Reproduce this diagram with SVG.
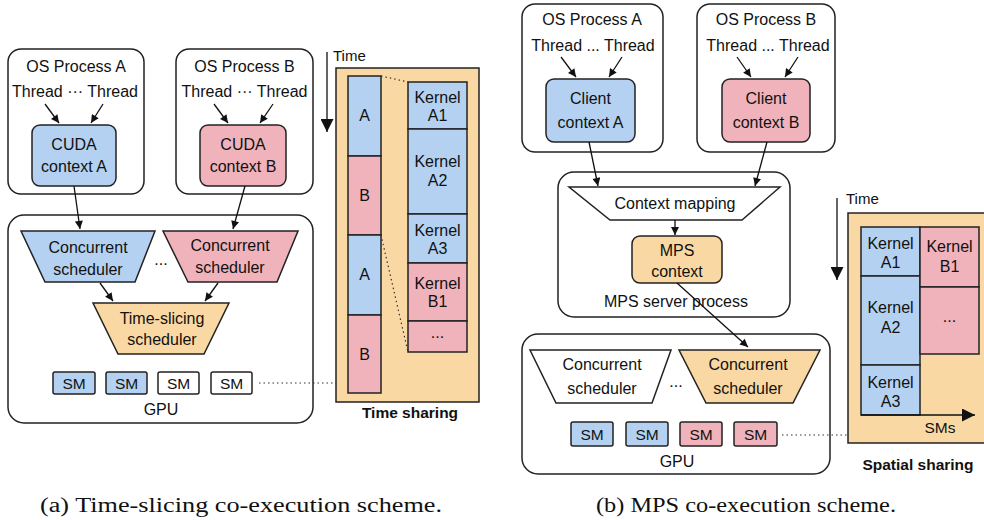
<svg xmlns="http://www.w3.org/2000/svg" width="984" height="520" viewBox="0 0 984 520">
<defs>
<marker id="ah" viewBox="0 0 10 10" refX="10" refY="5" markerWidth="9" markerHeight="8" markerUnits="userSpaceOnUse" orient="auto"><path d="M0,0 L10,5 L0,10 z" fill="#111"/></marker>
<marker id="big" viewBox="0 0 10 10" refX="10" refY="5" markerWidth="13" markerHeight="13" markerUnits="userSpaceOnUse" orient="auto"><path d="M0,0 L10,5 L0,10 z" fill="#111"/></marker>
<style>
text{font-family:"Liberation Sans",Arial,sans-serif;font-size:16px;fill:#111;text-anchor:middle}
.box{fill:#fff;stroke:#222;stroke-width:1.5}
.blue{fill:#b4d1f1;stroke:#222;stroke-width:1.5}
.pink{fill:#f0b3bb;stroke:#222;stroke-width:1.5}
.orange{fill:#fad8a3;stroke:#222;stroke-width:1.5}
.wht{fill:#fff;stroke:#222;stroke-width:1.5}
.ln{stroke:#111;stroke-width:1.3;fill:none}
.dot{stroke:#333;stroke-width:1.2;stroke-dasharray:1.5 3;fill:none}
.sm{font-size:15.5px}
.bold{font-weight:bold;font-size:15.5px}
.cap{font-family:"Liberation Serif","Times New Roman",serif;font-size:20px}
.lt{text-anchor:start;font-size:15px}
</style>
</defs>

<!-- Left panel -->
<g id="osA_left">
<rect class="box" x="8" y="49" width="136" height="145" rx="13"/>
<text x="76" y="72">OS Process A</text>
<text x="75" y="97">Thread ··· Thread</text>
</g>
<g id="cudaA">
<rect class="blue" x="32" y="125" width="84" height="61" rx="8"/>
<text x="74" y="150">CUDA</text>
<text x="74" y="172">context A</text>
</g>
<g id="osB_left">
<rect class="box" x="176" y="49" width="137" height="145" rx="13"/>
<text x="244.5" y="72">OS Process B</text>
<text x="244.5" y="97">Thread ··· Thread</text>
</g>
<g id="cudaB">
<rect class="pink" x="200" y="125" width="86" height="61" rx="8"/>
<text x="243" y="150">CUDA</text>
<text x="243" y="172">context B</text>
</g>
<g id="gpu_left">
<rect class="box" x="8" y="215" width="305" height="208" rx="16"/>
<text x="161" y="415">GPU</text>
</g>
<g id="concA_left">
<polygon class="blue" points="21,231 155,231 135,282 45,282"/>
<text x="88" y="253">Concurrent</text>
<text x="88" y="275">scheduler</text>
</g>
<g id="dots_left"><text x="161" y="265">...</text></g>
<g id="concB_left">
<polygon class="pink" points="163,231 298,231 277,282 188,282"/>
<text x="230" y="251">Concurrent</text>
<text x="230" y="273">scheduler</text>
</g>
<g id="timeslice">
<polygon class="orange" points="93,303 229,303 204,354 118,354"/>
<text x="162" y="324">Time-slicing</text>
<text x="162" y="345">scheduler</text>
</g>
<g id="sms_left">
<rect class="blue" x="53" y="372" width="42" height="22" rx="2"/>
<text class="sm" x="74" y="389">SM</text>
<rect class="blue" x="106" y="372" width="41" height="22" rx="2"/>
<text class="sm" x="126.5" y="389">SM</text>
<rect class="wht" x="158" y="372" width="41" height="22" rx="2"/>
<text class="sm" x="178.5" y="389">SM</text>
<rect class="wht" x="211" y="372" width="41" height="22" rx="2"/>
<text class="sm" x="231.5" y="389">SM</text>
</g>

<!-- Time sharing -->
<g id="timesharing">
<text class="lt" x="333" y="61">Time</text>
<rect class="orange" x="336" y="68" width="143" height="334"/>
<rect class="blue" x="348" y="76" width="33" height="80"/>
<text x="364.5" y="121">A</text>
<rect class="pink" x="348" y="156" width="33" height="79"/>
<text x="364.5" y="201">B</text>
<rect class="blue" x="348" y="235" width="33" height="80"/>
<text x="364.5" y="280">A</text>
<rect class="pink" x="348" y="315" width="33" height="78"/>
<text x="364.5" y="360">B</text>
<rect class="blue" x="408" y="82" width="59" height="47"/>
<text x="437.5" y="103">Kernel</text>
<text x="437.5" y="121">A1</text>
<rect class="blue" x="408" y="129" width="59" height="85"/>
<text x="437.5" y="167">Kernel</text>
<text x="437.5" y="186">A2</text>
<rect class="blue" x="408" y="214" width="59" height="49"/>
<text x="437.5" y="236">Kernel</text>
<text x="437.5" y="254">A3</text>
<rect class="pink" x="408" y="263" width="59" height="58"/>
<text x="437.5" y="289">Kernel</text>
<text x="437.5" y="307">B1</text>
<rect class="pink" x="408" y="321" width="59" height="31"/>
<text x="437.5" y="338">...</text>
<text class="bold" x="410" y="418">Time sharing</text>
</g>

<!-- Right panel -->
<g id="osA_right">
<rect class="box" x="522" y="4" width="141" height="148" rx="13"/>
<text x="592" y="25">OS Process A</text>
<text x="593" y="51">Thread ... Thread</text>
</g>
<g id="clientA">
<rect class="blue" x="546" y="79" width="89" height="63" rx="8"/>
<text x="590.5" y="104">Client</text>
<text x="590.5" y="128">context A</text>
</g>
<g id="osB_right">
<rect class="box" x="697" y="4" width="138" height="148" rx="13"/>
<text x="766" y="25">OS Process B</text>
<text x="768" y="51">Thread ... Thread</text>
</g>
<g id="clientB">
<rect class="pink" x="722" y="79" width="88" height="63" rx="8"/>
<text x="766" y="104">Client</text>
<text x="766" y="128">context B</text>
</g>
<g id="mpsserver">
<rect class="box" x="558" y="172" width="232" height="145" rx="16"/>
<text x="676" y="307">MPS server process</text>
</g>
<g id="ctxmap">
<polygon class="wht" points="569,187 780,187 742,220 610,220"/>
<text x="675" y="209">Context mapping</text>
</g>
<g id="mpsctx">
<rect class="orange" x="632" y="236" width="90" height="47" rx="8"/>
<text x="677" y="256">MPS</text>
<text x="677" y="277">context</text>
</g>
<g id="gpu_right">
<rect class="box" x="522" y="334" width="308" height="140" rx="16"/>
<text x="677" y="467">GPU</text>
</g>
<g id="concA_right">
<polygon class="wht" points="530,350 671,350 652,403 556,403"/>
<text x="602" y="370">Concurrent</text>
<text x="602" y="394">scheduler</text>
</g>
<g id="dots_right"><text x="676" y="387">...</text></g>
<g id="concB_right">
<polygon class="orange" points="679,350 820,350 793,403 706,403"/>
<text x="748" y="370">Concurrent</text>
<text x="748" y="394">scheduler</text>
</g>
<g id="sms_right">
<rect class="blue" x="571" y="422" width="42" height="24" rx="2"/>
<text class="sm" x="592" y="440">SM</text>
<rect class="blue" x="626" y="422" width="42" height="24" rx="2"/>
<text class="sm" x="647" y="440">SM</text>
<rect class="pink" x="680" y="422" width="42" height="24" rx="2"/>
<text class="sm" x="701" y="440">SM</text>
<rect class="pink" x="734" y="422" width="43" height="24" rx="2"/>
<text class="sm" x="755.5" y="440">SM</text>
</g>

<!-- Spatial sharing -->
<g id="spatialsharing">
<text class="lt" x="846" y="204">Time</text>
<rect class="orange" x="848" y="213" width="145" height="230"/>
<rect class="blue" x="861" y="227" width="59" height="49"/>
<text x="890.5" y="249">Kernel</text>
<text x="890.5" y="268">A1</text>
<rect class="blue" x="861" y="276" width="59" height="89"/>
<text x="890.5" y="313">Kernel</text>
<text x="890.5" y="333">A2</text>
<rect class="blue" x="861" y="365" width="59" height="50"/>
<text x="890.5" y="388">Kernel</text>
<text x="890.5" y="407">A3</text>
<rect class="pink" x="920" y="227" width="59" height="60"/>
<text x="949.5" y="252">Kernel</text>
<text x="949.5" y="272">B1</text>
<rect class="pink" x="920" y="287" width="59" height="67"/>
<text x="949.5" y="322">...</text>
<text class="sm" x="940" y="433">SMs</text>
<text class="bold" x="918" y="470">Spatial sharing</text>
</g>

<!-- Connectors -->
<g id="connectors">
<line class="ln" x1="45" y1="104" x2="59" y2="123" marker-end="url(#ah)"/>
<line class="ln" x1="103" y1="104" x2="91" y2="123" marker-end="url(#ah)"/>
<line class="ln" x1="214" y1="104" x2="228" y2="123" marker-end="url(#ah)"/>
<line class="ln" x1="273" y1="104" x2="260" y2="123" marker-end="url(#ah)"/>
<line class="ln" x1="74" y1="186" x2="80" y2="229" marker-end="url(#ah)"/>
<line class="ln" x1="245" y1="186" x2="233" y2="229" marker-end="url(#ah)"/>
<line class="ln" x1="100" y1="283" x2="113" y2="301" marker-end="url(#ah)"/>
<line class="ln" x1="218" y1="283" x2="205" y2="301" marker-end="url(#ah)"/>
<line class="dot" x1="259" y1="383" x2="336" y2="383"/>
<line class="dot" x1="381" y1="76" x2="408" y2="82"/>
<line class="dot" x1="381" y1="235" x2="408" y2="352"/>
<line class="ln" x1="327" y1="52" x2="327" y2="132" marker-end="url(#big)"/>
<line class="ln" x1="561" y1="57" x2="576" y2="77" marker-end="url(#ah)"/>
<line class="ln" x1="622" y1="57" x2="609" y2="77" marker-end="url(#ah)"/>
<line class="ln" x1="737" y1="57" x2="751" y2="77" marker-end="url(#ah)"/>
<line class="ln" x1="798" y1="57" x2="785" y2="77" marker-end="url(#ah)"/>
<line class="ln" x1="589" y1="142" x2="598" y2="186" marker-end="url(#ah)"/>
<line class="ln" x1="767" y1="142" x2="755" y2="186" marker-end="url(#ah)"/>
<line class="ln" x1="675" y1="220" x2="675" y2="235" marker-end="url(#ah)"/>
<line class="ln" x1="677" y1="283" x2="748" y2="347" marker-end="url(#ah)"/>
<line class="dot" x1="782" y1="435" x2="848" y2="435"/>
<line class="ln" x1="837" y1="198" x2="837" y2="280" marker-end="url(#big)"/>
<line class="ln" x1="861" y1="415" x2="975" y2="415" marker-end="url(#big)"/>
</g>

<!-- Captions -->
<text class="cap" x="241" y="512" textLength="402" lengthAdjust="spacingAndGlyphs">(a) Time-slicing co-execution scheme.</text>
<text class="cap" x="746" y="512" textLength="300" lengthAdjust="spacingAndGlyphs">(b) MPS co-execution scheme.</text>
</svg>
